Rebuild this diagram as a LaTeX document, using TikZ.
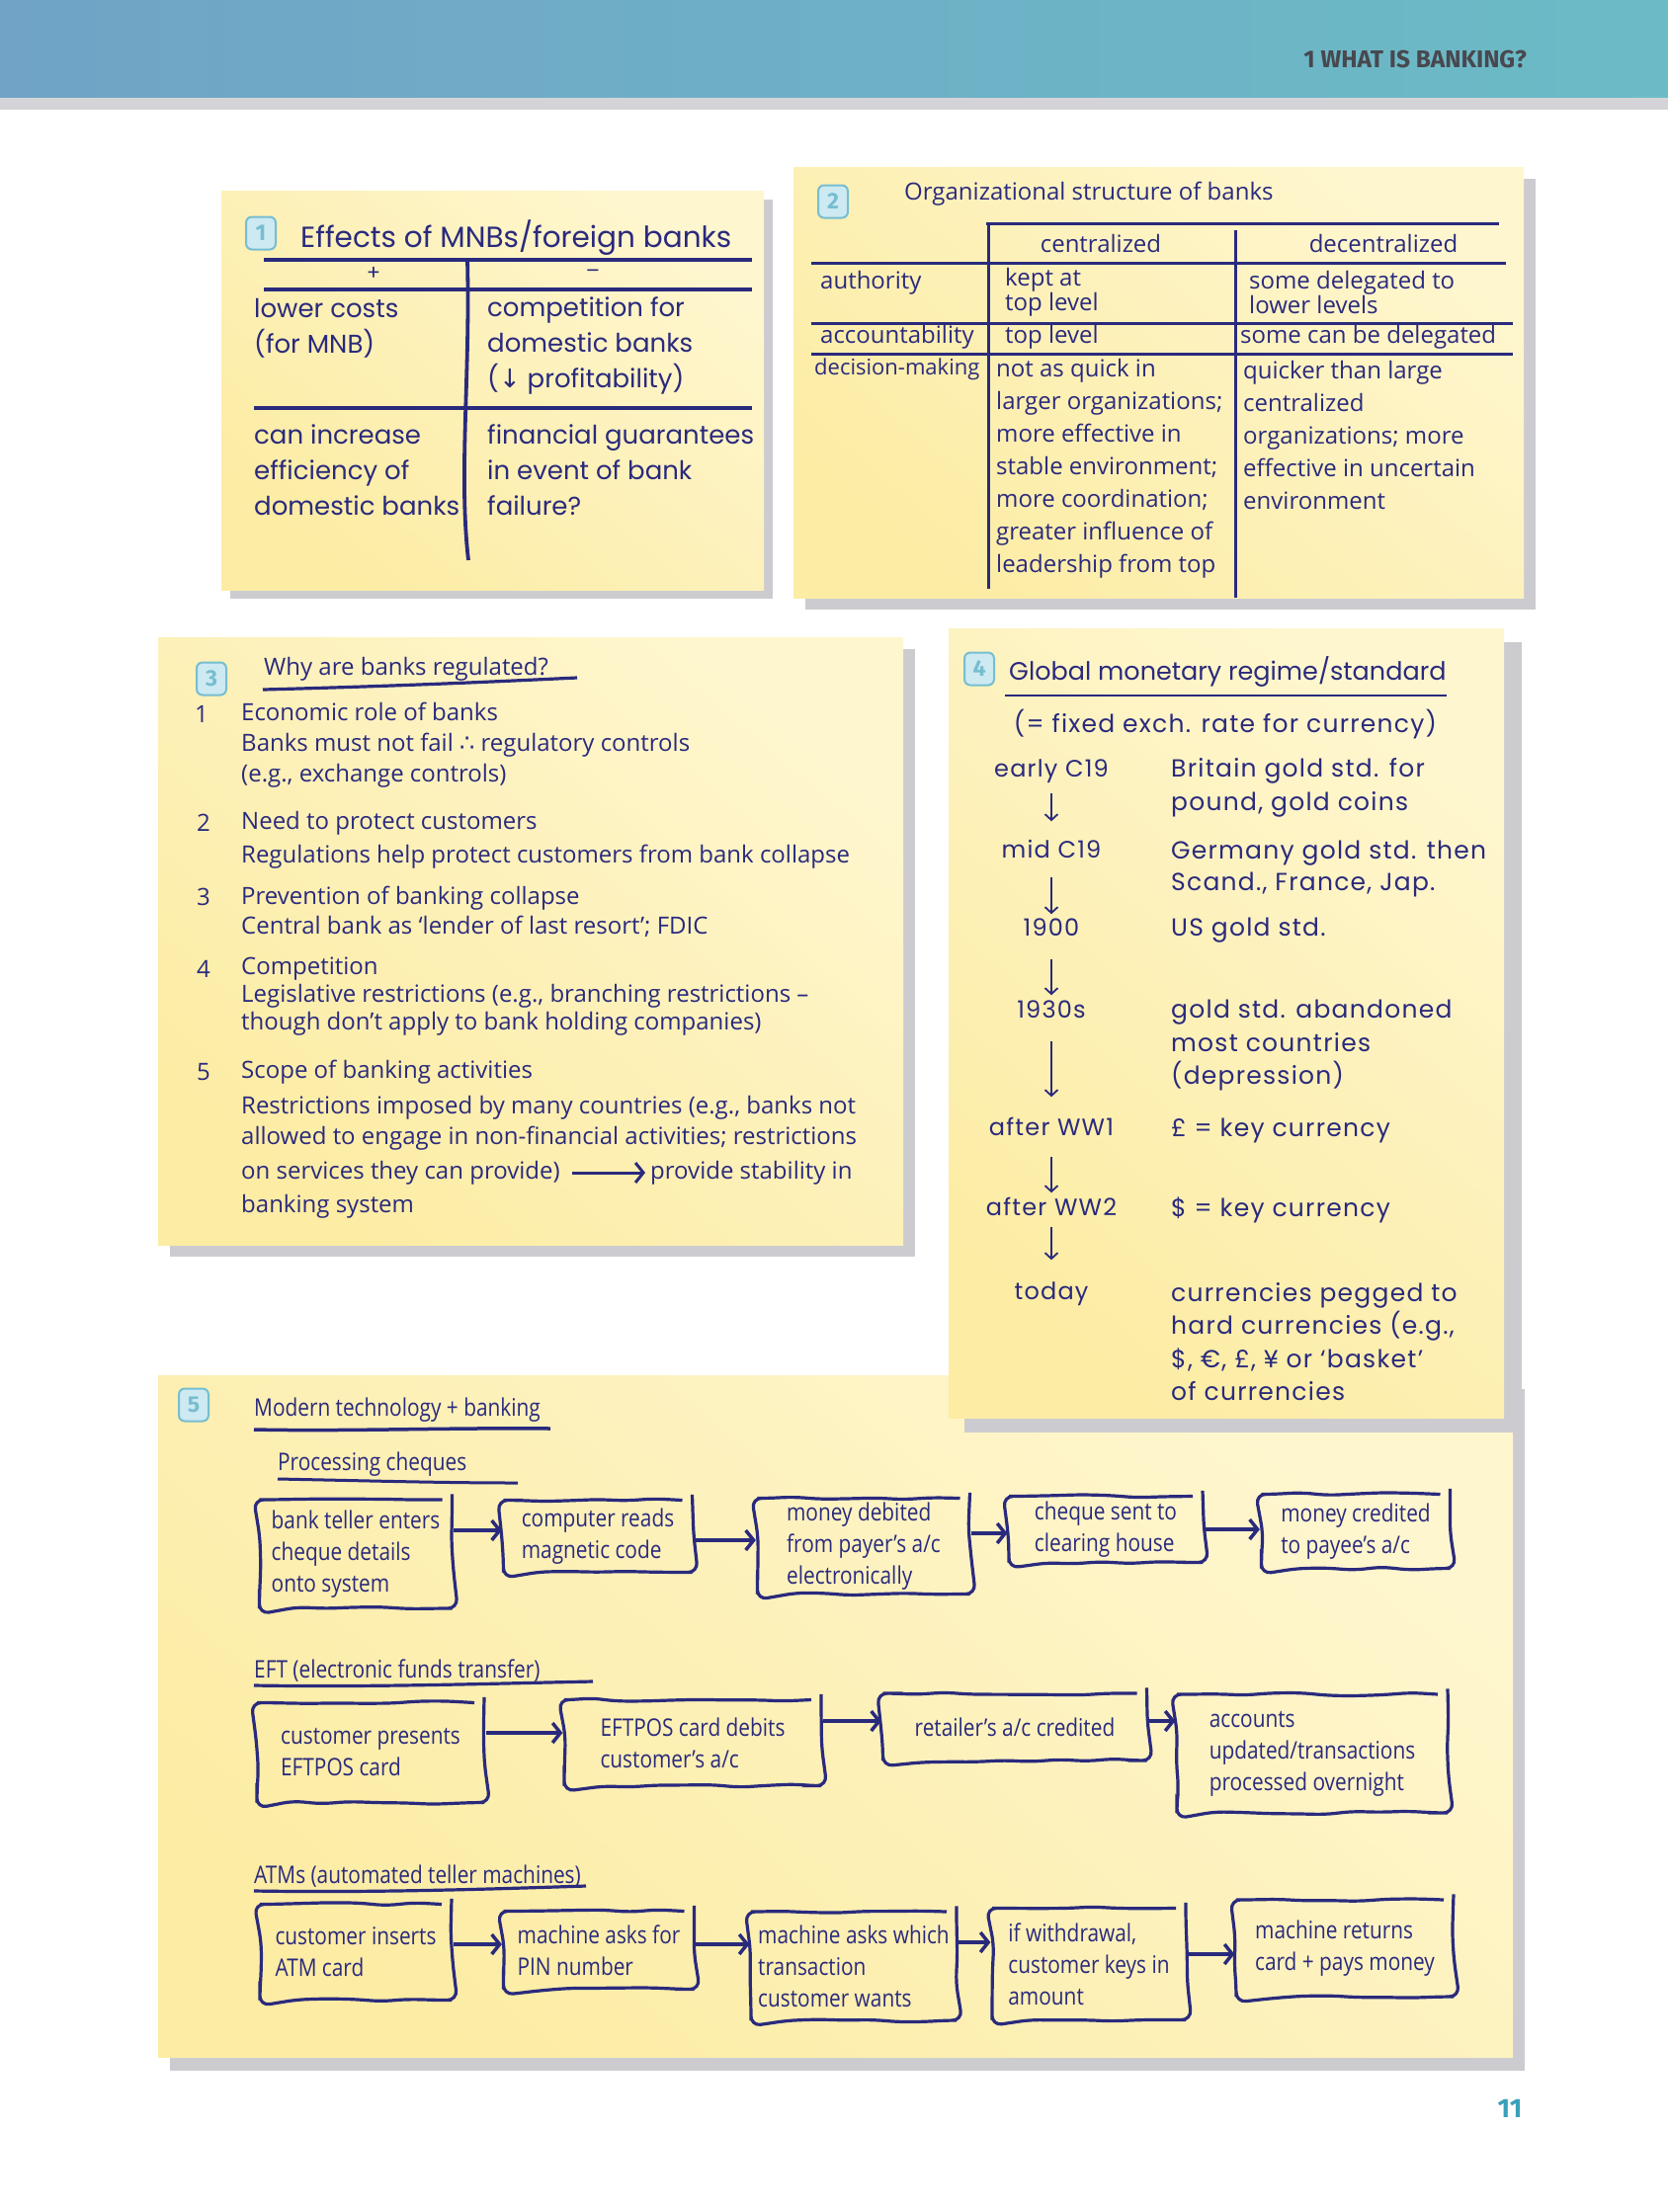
\documentclass[tikz,border=0pt]{standalone}
\usepackage{fontspec}
\usetikzlibrary{arrows.meta,decorations.pathmorphing,calc}
\newfontfamily\hwA{Poppins}
\newfontfamily\hwD{Poppins}[LetterSpace=5]
\newfontfamily\hwB{Open Sans}
\newfontfamily\hwC{Open Sans}[FakeStretch=0.85]
\newfontfamily\headf{Fira Sans}
\newfontfamily\symf{DejaVu Sans}
\definecolor{ink}{RGB}{42,42,125}
\definecolor{boxA}{RGB}{252,236,164}
\definecolor{boxB}{RGB}{254,246,206}
\definecolor{shad}{RGB}{204,204,208}
\definecolor{stripe}{RGB}{212,212,216}
\definecolor{badgeF}{RGB}{205,233,241}
\definecolor{badgeD}{RGB}{118,190,208}
\definecolor{pgteal}{RGB}{58,160,185}
\definecolor{bandA}{RGB}{112,163,198}
\definecolor{bandM}{RGB}{110,176,198}
\definecolor{bandB}{RGB}{107,187,198}
\definecolor{headtxt}{RGB}{72,72,78}
\tikzset{
  paper/.style={shading=axis, top color=boxB, bottom color=boxA, shading angle=-40},
  badge/.style={draw=badgeD, fill=badgeF, line width=2pt, rounded corners=6pt,
    minimum width=30pt, minimum height=33pt, inner sep=0pt,
    font=\headf\bfseries\fontsize{23}{23}\selectfont, text=badgeD},
  rule/.style={draw=ink, line width=3.8pt},
  rulethin/.style={draw=ink, line width=3pt},
  tA/.style={text=ink, inner sep=0pt, align=left, anchor=west, font=\hwA\fontsize{26}{36}\selectfont},
  tB/.style={text=ink, inner sep=0pt, align=left, anchor=west, font=\hwB\fontsize{24}{33}\selectfont},
  tFour/.style={text=ink, inner sep=0pt, align=left, anchor=west, font=\hwD\fontsize{25}{34}\selectfont},
  tFourc/.style={text=ink, inner sep=0pt, anchor=center, text height=17pt, text depth=6pt, font=\hwD\fontsize{24}{34}\selectfont},
  tC/.style={text=ink, inner sep=0pt, align=left, anchor=west, font=\hwC\fontsize{24.5}{32}\selectfont},
  hbox/.style={draw=ink, line width=3.2pt, rounded corners=10pt,
    decorate, decoration={random steps, segment length=28pt, amplitude=1.8pt},
    text=ink, align=left, inner sep=0pt, font=\hwC\fontsize{24.5}{32}\selectfont},
  flow/.style={draw=ink, line width=3.5pt, -{Straight Barb[length=8pt,width=20pt]}},
  downarr/.style={draw=ink, line width=1.8pt, -{Straight Barb[length=6pt,width=13pt]}},
}
\begin{document}
\pgfmathsetseed{11}
\begin{tikzpicture}[x=1pt,y=-1pt]
\useasboundingbox (0,0) rectangle (1688,2239);
\fill[white] (0,0) rectangle (1688,2239);
% header band
\fill[left color=bandA, right color=bandB, middle color=bandM] (0,0) rectangle (1688,99);
\fill[stripe] (0,99) rectangle (1688,111);
\node[anchor=east, inner sep=0pt, text=headtxt, font=\headf\bfseries\fontsize{24.5}{24}\selectfont] (hdr) at (1545,60) {1 WHAT IS BANKING?};
\node[inner sep=0pt, text=pgteal, font=\headf\bfseries\fontsize{27}{27}\selectfont] (pgno) at (1528,2134) {11};

% ---------- box 1
\fill[shad] (233,202) rectangle (782,606);
\fill[paper] (224,193) rectangle (773,597);
\node[badge] (bd1) at (264,236) {1};
\node[tA, font=\hwA\fontsize{29.5}{36}\selectfont] (t1) at (304,241) {Effects of MNBs/foreign banks};
\draw[rule] (267,263) -- (761,263);
\draw[rule] (267,293) -- (761,293);
\draw[rule] (257,413) -- (761,413);
\draw[rule] (473,263) .. controls (476,380) and (464,480) .. (474,567);
\node[tA, anchor=center, font=\hwA\fontsize{21}{21}\selectfont] (plus) at (378,277) {+};
\node[tA, anchor=center, font=\hwA\fontsize{21}{21}\selectfont] (minus) at (600,277) {–};
\node[tA] (c11) at (257,332) {lower costs\\(for MNB)};
\node[tA] (c12) at (493,350) {competition for\\domestic banks\\({\symf ↓} profitability)};
\node[tA] (c21) at (257,476) {can increase\\efficiency of\\domestic banks};
\node[tA] (c22) at (493,476) {financial guarantees\\in event of bank\\failure?};

% ---------- box 2
\fill[shad] (815,181) rectangle (1554,617);
\fill[paper] (803,169) rectangle (1542,605);
\node[badge] (bd2) at (843,204) {2};
\node[tB] (t2) at (915,196) {Organizational structure of banks};
\draw[rulethin] (998,226) -- (1517,226);
\draw[rulethin] (821,266) -- (1524,266);
\draw[rulethin] (821,327) -- (1531,327);
\draw[rulethin] (821,358) -- (1531,358);
\draw[rulethin] (1000,226) -- (1000,596);
\draw[rulethin] (1250,233) -- (1250,605);
\node[tB, anchor=center] (h21) at (1114,246) {centralized};
\node[tB, anchor=center] (h22) at (1400,246) {decentralized};
\node[tB] (r21) at (830,286) {authority};
\node[tB, font=\hwB\fontsize{24}{23}\selectfont] (r21a) at (1017,296) {kept at\\top level};
\node[tB, font=\hwB\fontsize{24}{23}\selectfont] (r21b) at (1264,296) {some delegated to\\lower levels};
\node[tB] (r22) at (830,341) {accountability};
\node[tB] (r22a) at (1017,341) {top level};
\node[tB] (r22b) at (1255,341) {some can be delegated};
\node[tB, font=\hwB\fontsize{22}{33}\selectfont] (r23) at (824,374) {decision-making};
\node[tB] (r23a) at (1008,474) {not as quick in\\larger organizations;\\more effective in\\stable environment;\\more coordination;\\greater influence of\\leadership from top};
\node[tB] (r23b) at (1258,440) {quicker than large\\centralized\\organizations; more\\effective in uncertain\\environment};

% ---------- box 3
\fill[shad] (172,657) rectangle (926,1272);
\fill[paper] (160,645) rectangle (914,1260);
\node[badge] (bd3) at (214,687) {3};
\node[tB] (t3) at (267,677) {Why are banks regulated?};
\draw[ink, line width=3.2pt] (266,698) .. controls (420,694) and (520,689) .. (584,686);
\node[tB] (n1) at (197,723) {1};
\node[tB, font=\hwB\fontsize{24}{31}\selectfont] (i1) at (244,754) {Economic role of banks\\Banks must not fail {\symf ∴} regulatory controls\\(e.g., exchange controls)};
\node[tB] (n2) at (199,833) {2};
\node[tB, font=\hwB\fontsize{24}{34}\selectfont] (i2) at (244,850) {Need to protect customers\\Regulations help protect customers from bank collapse};
\node[tB] (n3) at (199,908) {3};
\node[tB, font=\hwB\fontsize{24}{30}\selectfont] (i3) at (244,923) {Prevention of banking collapse\\Central bank as ‘lender of last resort’; FDIC};
\node[tB] (n4) at (199,981) {4};
\node[tB, font=\hwB\fontsize{24}{28}\selectfont] (i4) at (244,1009) {Competition\\Legislative restrictions (e.g., branching restrictions –\\though don’t apply to bank holding companies)};
\node[tB] (n5) at (199,1085) {5};
\node[tB] (i5h) at (244,1085) {Scope of banking activities};
\node[tB] (i5a) at (244,1121) {Restrictions imposed by many countries (e.g., banks not};
\node[tB] (i5b) at (244,1152) {allowed to engage in non-financial activities; restrictions};
\node[tB] (i5l) at (244,1187) {on services they can provide)};
\node[tB] (i5r) at (658,1187) {provide stability in};
\node[tB] (i5d) at (244,1221) {banking system};
\draw[flow, line width=3pt, shorten <=12pt, shorten >=5pt] (i5l.east) -- (i5r.west);

% ---------- box 5 (behind box 4)
\fill[shad] (172,1406) rectangle (1543,2096);
\fill[paper] (160,1392) rectangle (1531,2082);
\node[badge] (bd5) at (196,1422) {5};
\node[tC] (t5) at (257,1427) {Modern technology + banking};
\draw[ink, line width=3.5pt] (257,1447) .. controls (350,1449) and (450,1445) .. (557,1446);
\node[tC] (s51) at (281,1482) {Processing cheques};
\draw[ink, line width=3pt] (281,1497) .. controls (380,1499) and (450,1501) .. (524,1501);
\node[tC] (s52) at (257,1691) {EFT (electronic funds transfer)};
\draw[ink, line width=3.2pt] (257,1706) .. controls (380,1708) and (500,1704) .. (600,1702);
\node[tC] (s53) at (257,1899) {ATMs (automated teller machines)};
\draw[ink, line width=3.2pt] (257,1914) .. controls (380,1916) and (500,1912) .. (593,1909);

\node[hbox, minimum width=195pt, minimum height=110pt] (B1) at (360,1573) {bank teller enters\\cheque details\\onto system};
\node[hbox, minimum width=191pt, minimum height=73pt] (B2) at (605,1555) {computer reads\\magnetic code};
\node[hbox, minimum width=215pt, minimum height=97pt] (B3) at (874,1565) {money debited\\from payer’s a/c\\electronically};
\node[hbox, minimum width=196pt, minimum height=67pt] (B4) at (1119,1548) {cheque sent to\\clearing house};
\node[hbox, minimum width=191pt, minimum height=75pt] (B5) at (1372,1550) {money credited\\to payee’s a/c};
\draw[flow] ([yshift=24pt]B1.east) -- ([yshift=24pt]B1.east -| B2.west);
\draw[flow] ([yshift=-4pt]B2.east) -- ([yshift=-4pt]B2.east -| B3.west);
\draw[flow] ([yshift=13pt]B3.east) -- ([yshift=13pt]B3.east -| B4.west);
\draw[flow] (B4.east) -- (B4.east -| B5.west);

\node[hbox, minimum width=230pt, minimum height=101pt] (C1) at (375,1774) {customer presents\\EFTPOS card};
\node[hbox, minimum width=260pt, minimum height=87pt] (C2) at (701,1764) {EFTPOS card debits\\customer’s a/c};
\node[hbox, minimum width=267pt, minimum height=68pt] (C3) at (1027,1748) {retailer’s a/c credited};
\node[hbox, minimum width=274pt, minimum height=120pt] (C4) at (1328,1775) {accounts\\updated/transactions\\processed overnight};
\draw[flow] ([yshift=20pt]C1.east) -- ([yshift=20pt]C1.east -| C2.west);
\draw[flow] ([yshift=22pt]C2.east) -- ([yshift=22pt]C2.east -| C3.west);
\draw[flow] ([yshift=6pt]C3.east) -- ([yshift=6pt]C3.east -| C4.west);

\node[hbox, minimum width=194pt, minimum height=97pt] (D1) at (360,1976) {customer inserts\\ATM card};
\node[hbox, minimum width=193pt, minimum height=79pt] (D2) at (606,1974) {machine asks for\\PIN number};
\node[hbox, minimum width=208pt, minimum height=110pt] (D3) at (864,1990) {machine asks which\\transaction\\customer wants};
\node[hbox, minimum width=196pt, minimum height=113pt] (D4) at (1102,1988) {if withdrawal,\\customer keys in\\amount};
\node[hbox, minimum width=220pt, minimum height=98pt] (D5) at (1361,1972) {machine returns\\card + pays money};
\draw[flow] ([yshift=8pt]D1.east) -- ([yshift=8pt]D1.east -| D2.west);
\draw[flow] ([yshift=6pt]D2.east) -- ([yshift=6pt]D2.east -| D3.west);
\draw[flow] ([yshift=24pt]D3.east) -- ([yshift=24pt]D3.east -| D4.west);
\draw[flow] ([yshift=10pt]D4.east) -- ([yshift=10pt]D4.east -| D5.west);

% ---------- box 4 (on top of box 5)
\fill[shad] (976,650) rectangle (1540,1450);
\fill[paper] (960,636) rectangle (1522,1435);
\node[badge] (bd4) at (991,677) {4};
\node[tA, font=\hwA\fontsize{25.5}{34}\selectfont] (t4) at (1021,680) {Global monetary regime/standard};
\draw[ink, line width=2.5pt] (1017,704) -- (1464,704);
\node[tFour, anchor=center] (t4s) at (1240,733) {(= fixed exch. rate for currency)};
\node[tFourc] (e1) at (1064,781) {early C19};
\node[tFourc] (e2) at (1064,863) {mid C19};
\node[tFourc] (e3) at (1064,942) {1900};
\node[tFourc] (e4) at (1064,1025) {1930s};
\node[tFourc] (e5) at (1064,1144) {after WW1};
\node[tFourc] (e6) at (1064,1225) {after WW2};
\node[tFourc] (e7) at (1064,1310) {today};
\draw[downarr, shorten <=10pt, shorten >=20pt] (e1.south) -- (e2.north);
\draw[downarr, shorten <=13pt, shorten >=5pt] (e2.south) -- (e3.north);
\draw[downarr, shorten <=17pt, shorten >=6pt] (e3.south) -- (e4.north);
\draw[downarr, shorten <=17pt, shorten >=22pt] (e4.south) -- (e5.north);
\draw[downarr, shorten <=15pt, shorten >=6pt] (e5.south) -- (e6.north);
\draw[downarr, shorten <=5pt, shorten >=23pt] (e6.south) -- (e7.north);
\node[tFour] (g1) at (1185,797) {Britain gold std. for\\pound, gold coins};
\node[tFour, font=\hwD\fontsize{25}{32}\selectfont] (g2) at (1185,879) {Germany gold std. then\\Scand., France, Jap.};
\node[tFour] (g3) at (1185,942) {US gold std.};
\node[tFour, font=\hwD\fontsize{25}{33.5}\selectfont] (g4) at (1185,1058) {gold std. abandoned\\most countries\\(depression)};
\node[tFour] (g5) at (1185,1144) {£ = key currency};
\node[tFour] (g6) at (1185,1225) {\$ = key currency};
\node[tFour, font=\hwD\fontsize{25}{33.3}\selectfont] (g7) at (1185,1358) {currencies pegged to\\hard currencies (e.g.,\\\$, €, £, ¥ or ‘basket’\\of currencies};
\end{tikzpicture}
\end{document}
